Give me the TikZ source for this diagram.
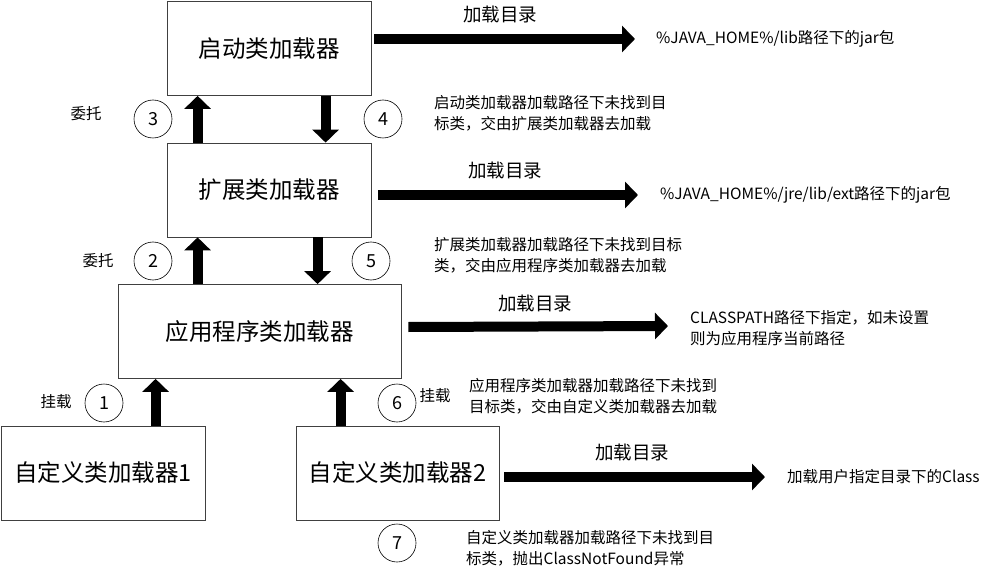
\documentclass[tikz,border=0pt]{standalone}
\usepackage{fontspec}
\setmainfont{Noto Sans CJK SC}
\usetikzlibrary{arrows.meta}
\tikzset{
  loader/.style={draw=black!75, line width=0.8pt, minimum height=94pt, inner sep=0pt,
    font=\fontsize{23.5}{28}\selectfont},
  bigarrow/.style={line width=10pt, -{Triangle[width=26pt,length=13pt]}},
  num/.style={circle, draw, line width=0.6pt, minimum size=38pt, inner sep=0pt,
    font=\fontsize{18}{20}\selectfont},
  tag/.style={font=\fontsize{15.5}{18}\selectfont},
  note/.style={anchor=west, align=left, inner sep=0pt, font=\fontsize{15.5}{21}\selectfont},
  dirlabel/.style={font=\fontsize{18.5}{22}\selectfont},
}
\begin{document}
\begin{tikzpicture}[x=1pt,y=-1pt]
        \useasboundingbox (0,0) rectangle (987,577);
        % 绘制类加载器
        \node[loader, minimum width=204pt] (boot) at (269,48.5) {启动类加载器};
        \node[loader, minimum width=204pt] (ext) at (269,190) {扩展类加载器};
        \node[loader, minimum width=283pt] (app) at (259.5,331.5) {应用程序类加载器};
        \node[loader, minimum width=204pt] (cus1) at (103,473) {自定义类加载器1};
        \node[loader, minimum width=203pt] (cus2) at (397.5,473) {自定义类加载器2};
        % 委托与挂载
        \draw[bigarrow] ([xshift=31pt]ext.north west) -- ([xshift=31pt]boot.south west);
        \draw[bigarrow] ([xshift=159pt]boot.south west) -- ([xshift=159pt]ext.north west);
        \draw[bigarrow] ([xshift=80pt]app.north west) -- ([xshift=31pt]ext.south west);
        \draw[bigarrow] ([xshift=151pt]ext.south west) -- ([xshift=200pt]app.north west);
        \draw[bigarrow] ([xshift=155pt]cus1.north west) -- ([xshift=38pt]app.south west);
        \draw[bigarrow] ([xshift=45pt]cus2.north west) -- ([xshift=223pt]app.south west);
        % 标注序号
        \node[num] (n3) at (153,119) {3};
        \node[num] (n4) at (383,119) {4};
        \node[num] (n2) at (153,261) {2};
        \node[num] (n5) at (371,261) {5};
        \node[num] (n1) at (104,403) {1};
        \node[num] (n6) at (397,403) {6};
        \node[num] (n7) at (397,543) {7};
        \node[tag] (w3) at (86,114) {委托};
        \node[tag] (w2) at (98,261) {委托};
        \node[tag] (g1) at (56,402) {挂载};
        \node[tag] (g6) at (435,396) {挂载};
        % 加载目录
        \node[note] (t1) at (656,39) {\%JAVA\_HOME\%/lib路径下的jar包};
        \node[note] (t2) at (660,195) {\%JAVA\_HOME\%/jre/lib/ext路径下的jar包};
        \node[note] (t3) at (690,328) {CLASSPATH路径下指定，如未设置\\则为应用程序当前路径};
        \node[note] (t4) at (787,477) {加载用户指定目录下的Class};
        \draw[bigarrow] ([xshift=3pt,yshift=9.5pt]boot.east) -- ([xshift=-21pt]t1.west);
        \draw[bigarrow] ([xshift=7pt,yshift=-5pt]ext.east) -- ([xshift=-22pt]t2.west);
        \draw[bigarrow] ([xshift=7pt,yshift=4.5pt]app.east) -- ([xshift=-22pt,yshift=2pt]t3.west);
        \draw[bigarrow] ([xshift=5pt,yshift=-4pt]cus2.east) -- ([xshift=-22pt]t4.west);
        \node[dirlabel] (d1) at (500,14) {加载目录};
        \node[dirlabel] (d2) at (505,170) {加载目录};
        \node[dirlabel] (d3) at (535,303) {加载目录};
        \node[dirlabel] (d4) at (632,452) {加载目录};
        % 未找到时的说明
        \node[note] (m4) at (434,113) {启动类加载器加载路径下未找到目\\标类，交由扩展类加载器去加载};
        \node[note] (m5) at (434,255) {扩展类加载器加载路径下未找到目标\\类，交由应用程序类加载器去加载};
        \node[note] (m6) at (469,396) {应用程序类加载器加载路径下未找到\\目标类，交由自定义类加载器去加载};
        \node[note] (m7) at (466,548) {自定义类加载器加载路径下未找到目\\标类，抛出ClassNotFound异常};
    \end{tikzpicture}
\end{document}
